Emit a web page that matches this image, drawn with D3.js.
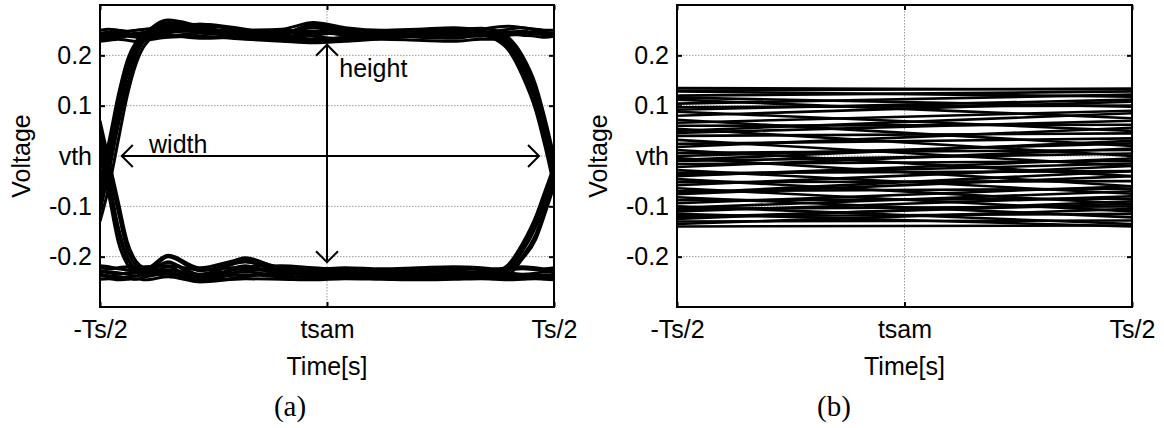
<!DOCTYPE html>
<html><head><meta charset="utf-8">
<script src="https://cdn.jsdelivr.net/npm/d3@7"></script>
<style>body{margin:0;background:#fff}svg{display:block}</style>
</head><body><svg id="c" width="1164" height="428"></svg>
<script>
// ---------- data ----------
const yTickValues = [0.2, 0.1, 0, -0.1, -0.2];
const yTickLabels = ["0.2", "0.1", "vth", "-0.1", "-0.2"];
const xTickValues = [-0.5, 0, 0.5];
const xTickLabels = ["-Ts/2", "tsam", "Ts/2"];
const xLabel = "Time[s]";
const yLabel = "Voltage";
const captions = ["(a)", "(b)"];

// panel (a): eye diagram traces sampled at timeA
const timeA = [-0.5,-0.48,-0.46,-0.44,-0.42,-0.40,-0.35,-0.28,-0.18,-0.10,-0.03,0.04,0.12,0.20,0.28,0.34,0.37,0.40,0.43,0.46,0.48,0.5];
const eyeTraces = [
  [0.238,0.242,0.246,0.244,0.24,0.238,0.245,0.25,0.242,0.24,0.258,0.25,0.238,0.242,0.24,0.242,0.244,0.246,0.248,0.245,0.242,0.24],
  [0.232,0.234,0.236,0.238,0.236,0.234,0.238,0.244,0.236,0.232,0.228,0.232,0.24,0.236,0.234,0.24,0.236,0.222,0.18,0.115,0.04,-0.04],
  [-0.08,0.0,0.09,0.17,0.215,0.24,0.265,0.255,0.245,0.243,0.262,0.25,0.238,0.242,0.24,0.242,0.238,0.225,0.185,0.12,0.05,-0.03],
  [-0.05,0.03,0.12,0.19,0.228,0.245,0.27,0.258,0.24,0.236,0.245,0.242,0.246,0.248,0.244,0.245,0.248,0.252,0.255,0.25,0.246,0.244],
  [-0.11,-0.03,0.06,0.14,0.2,0.232,0.258,0.262,0.248,0.24,0.232,0.236,0.242,0.238,0.236,0.24,0.232,0.21,0.16,0.09,0.02,-0.06],
  [0.25,0.252,0.25,0.248,0.25,0.252,0.255,0.248,0.25,0.252,0.265,0.255,0.25,0.252,0.255,0.252,0.256,0.258,0.255,0.252,0.25,0.25],
  [0.228,0.23,0.232,0.23,0.228,0.23,0.236,0.238,0.232,0.228,0.225,0.228,0.232,0.23,0.228,0.232,0.232,0.215,0.17,0.105,0.03,-0.05],
  [-0.07,0.01,0.1,0.175,0.22,0.24,0.26,0.25,0.24,0.245,0.255,0.244,0.236,0.24,0.245,0.246,0.245,0.232,0.195,0.135,0.065,-0.02],
  [-0.09,-0.01,0.08,0.16,0.21,0.236,0.262,0.26,0.25,0.244,0.248,0.24,0.235,0.238,0.242,0.24,0.238,0.24,0.242,0.244,0.24,0.238],
  [0.236,0.238,0.24,0.242,0.24,0.24,0.248,0.262,0.252,0.238,0.232,0.235,0.24,0.242,0.24,0.238,0.24,0.242,0.24,0.238,0.236,0.238],
  [0.244,0.246,0.244,0.242,0.244,0.246,0.25,0.246,0.24,0.25,0.248,0.252,0.248,0.25,0.252,0.254,0.25,0.235,0.2,0.14,0.075,0.0],
  [-0.13,-0.06,0.03,0.12,0.185,0.222,0.252,0.25,0.24,0.234,0.24,0.246,0.244,0.242,0.246,0.248,0.244,0.228,0.19,0.13,0.06,-0.025],
  [0.242,0.244,0.243,0.24,0.238,0.242,0.24,0.234,0.238,0.246,0.238,0.232,0.236,0.244,0.25,0.246,0.242,0.244,0.246,0.244,0.242,0.244],
  [0.03,-0.05,-0.14,-0.2,-0.225,-0.232,-0.2,-0.228,-0.21,-0.23,-0.232,-0.23,-0.228,-0.232,-0.235,-0.233,-0.23,-0.232,-0.235,-0.233,-0.23,-0.232],
  [0.0,-0.08,-0.17,-0.215,-0.23,-0.236,-0.22,-0.25,-0.228,-0.225,-0.235,-0.238,-0.235,-0.23,-0.228,-0.232,-0.23,-0.222,-0.19,-0.14,-0.09,-0.04],
  [-0.235,-0.238,-0.24,-0.242,-0.245,-0.24,-0.235,-0.245,-0.202,-0.224,-0.228,-0.232,-0.235,-0.236,-0.233,-0.232,-0.235,-0.228,-0.2,-0.155,-0.105,-0.05],
  [-0.222,-0.224,-0.222,-0.22,-0.222,-0.224,-0.197,-0.222,-0.205,-0.222,-0.225,-0.222,-0.224,-0.222,-0.22,-0.222,-0.224,-0.222,-0.22,-0.222,-0.224,-0.222],
  [0.05,-0.03,-0.11,-0.185,-0.218,-0.228,-0.23,-0.248,-0.24,-0.232,-0.24,-0.242,-0.24,-0.238,-0.24,-0.238,-0.232,-0.215,-0.175,-0.12,-0.07,-0.02],
  [-0.245,-0.244,-0.246,-0.245,-0.244,-0.246,-0.24,-0.25,-0.244,-0.245,-0.246,-0.244,-0.245,-0.246,-0.245,-0.244,-0.245,-0.246,-0.245,-0.244,-0.245,-0.246],
  [0.02,-0.06,-0.15,-0.205,-0.226,-0.234,-0.21,-0.245,-0.218,-0.235,-0.23,-0.236,-0.232,-0.238,-0.236,-0.234,-0.238,-0.236,-0.236,-0.238,-0.236,-0.238],
  [-0.23,-0.232,-0.235,-0.232,-0.23,-0.228,-0.212,-0.235,-0.21,-0.228,-0.236,-0.232,-0.23,-0.235,-0.232,-0.23,-0.23,-0.218,-0.182,-0.128,-0.08,-0.03],
  [-0.228,-0.23,-0.232,-0.234,-0.232,-0.23,-0.226,-0.238,-0.224,-0.232,-0.234,-0.236,-0.238,-0.24,-0.238,-0.236,-0.238,-0.24,-0.238,-0.236,-0.238,-0.24],
  [0.07,-0.01,-0.09,-0.17,-0.21,-0.224,-0.234,-0.24,-0.23,-0.238,-0.228,-0.226,-0.23,-0.234,-0.236,-0.24,-0.242,-0.236,-0.205,-0.165,-0.115,-0.06],
  [-0.218,-0.22,-0.224,-0.226,-0.224,-0.22,-0.218,-0.226,-0.22,-0.218,-0.222,-0.226,-0.228,-0.226,-0.224,-0.226,-0.228,-0.226,-0.224,-0.226,-0.228,-0.226],
  [-0.238,-0.24,-0.242,-0.24,-0.238,-0.236,-0.232,-0.242,-0.236,-0.24,-0.242,-0.24,-0.242,-0.244,-0.242,-0.24,-0.242,-0.244,-0.242,-0.24,-0.242,-0.244]
];

// panel (b): closed eye, each trace from -Ts/2 to Ts/2
const timeB = [-0.5, 0.5];
const closedLeft  = [0.135,0.13,0.128,0.12,0.116,0.112,0.104,0.097,0.092,0.088,0.08,0.072,0.066,0.06,0.054,0.05,0.046,0.04,0.032,0.024,0.018,0.012,0.006,0.0,-0.004,-0.008,-0.01,-0.016,-0.022,-0.028,-0.034,-0.038,-0.04,-0.046,-0.052,-0.058,-0.064,-0.07,-0.074,-0.076,-0.082,-0.088,-0.094,-0.1,-0.103,-0.105,-0.11,-0.115,-0.12,-0.122,-0.125,-0.13,-0.135,-0.14];
const closedRight = [0.132,0.134,0.118,0.128,0.098,0.075,0.122,0.1,0.112,0.05,0.108,0.02,0.09,0.062,0.0,0.085,0.07,0.045,-0.02,0.035,0.056,-0.04,0.012,0.025,-0.06,0.03,0.005,-0.01,0.015,-0.075,-0.03,-0.015,-0.005,-0.095,-0.05,-0.02,-0.11,-0.065,-0.03,-0.04,-0.122,-0.085,-0.06,-0.135,-0.07,-0.1,-0.08,-0.14,-0.115,-0.095,-0.09,-0.128,-0.105,-0.138];

// annotations (panel a)
const widthArrow  = {t0: -0.452, t1: 0.467, v: 0};
const heightArrow = {t: 0, v0: 0.221, v1: -0.211};
const widthLabel  = {t: -0.392, v: 0.006, text: "width"};
const heightLabel = {t: 0.027, v: 0.157, text: "height"};

// ---------- layout ----------
const svg = d3.select("#c");
const font = "'Liberation Sans', Arial, Helvetica, sans-serif";
const yTop = 5, yBot = 307;
const panels = [{x0: 100, x1: 554, cap: 290}, {x0: 677, x1: 1132, cap: 834}];

panels.forEach((p, pi) => {
  const x = d3.scaleLinear().domain([-0.5, 0.5]).range([p.x0, p.x1]);
  const y = d3.scaleLinear().domain([-0.3, 0.3]).range([yBot, yTop]);
  const g = svg.append("g");

  // grid
  g.selectAll(".gy").data(yTickValues).join("line")
    .attr("x1", p.x0).attr("x2", p.x1).attr("y1", d => y(d)).attr("y2", d => y(d))
    .attr("stroke", "#9a9a9a").attr("stroke-width", 1).attr("stroke-dasharray", "1.5,1.5");
  g.selectAll(".gx").data(xTickValues).join("line")
    .attr("y1", yTop).attr("y2", yBot).attr("x1", d => x(d)).attr("x2", d => x(d))
    .attr("stroke", "#9a9a9a").attr("stroke-width", 1).attr("stroke-dasharray", "1.5,1.5");

  // clip
  const cid = "clip" + pi;
  svg.append("clipPath").attr("id", cid).append("rect")
    .attr("x", p.x0).attr("y", yTop).attr("width", p.x1 - p.x0).attr("height", yBot - yTop);
  const plot = g.append("g").attr("clip-path", `url(#${cid})`);

  if (pi === 0) {
    const line = d3.line().x((d, i) => x(timeA[i])).y(d => y(d)).curve(d3.curveMonotoneX);
    plot.selectAll("path.tr").data(eyeTraces).join("path")
      .attr("d", line).attr("fill", "none").attr("stroke", "#000").attr("stroke-width", 3);
  } else {
    const pairs = closedLeft.map((v, i) => [v, closedRight[i]]);
    const line = d3.line().x((d, i) => x(timeB[i])).y(d => y(d));
    plot.selectAll("path.tr").data(pairs).join("path")
      .attr("d", line).attr("fill", "none").attr("stroke", "#000").attr("stroke-width", 2.6);
  }

  // axes: labels + inward ticks
  const ax = svg.append("g").attr("font-family", font);
  const left = d3.axisLeft(y).tickValues(yTickValues).tickFormat((d, i) => yTickLabels[i])
    .tickSizeInner(-5).tickSizeOuter(0).tickPadding(8);
  const gl = ax.append("g").attr("transform", `translate(${p.x0},0)`).call(left);
  const right = d3.axisRight(y).tickValues(yTickValues).tickFormat("").tickSizeInner(-5).tickSizeOuter(0);
  const gr = ax.append("g").attr("transform", `translate(${p.x1},0)`).call(right);
  const bot = d3.axisBottom(x).tickValues(xTickValues).tickFormat((d, i) => xTickLabels[i])
    .tickSizeInner(-5).tickSizeOuter(0).tickPadding(13);
  const gb = ax.append("g").attr("transform", `translate(0,${yBot})`).call(bot);
  const topAx = d3.axisTop(x).tickValues(xTickValues).tickFormat("").tickSizeInner(-5).tickSizeOuter(0);
  const gt = ax.append("g").attr("transform", `translate(0,${yTop})`).call(topAx);
  [gl, gr, gb, gt].forEach(a => {
    a.select(".domain").remove();
    a.selectAll(".tick line").attr("stroke", "#000").attr("stroke-width", 2);
    a.selectAll("text").attr("font-size", 25).attr("fill", "#000");
  });

  // frame
  g.append("rect").attr("x", p.x0).attr("y", yTop).attr("width", p.x1 - p.x0).attr("height", yBot - yTop)
    .attr("fill", "none").attr("stroke", "#000").attr("stroke-width", 2);

  // axis titles
  svg.append("text").attr("x", (p.x0 + p.x1) / 2).attr("y", 375).attr("text-anchor", "middle")
    .attr("font-family", font).attr("font-size", 25).text(xLabel);
  svg.append("text").attr("transform", `translate(${p.x0 - 70},${(yTop + yBot) / 2}) rotate(-90)`)
    .attr("text-anchor", "middle").attr("font-family", font).attr("font-size", 25).text(yLabel);
  svg.append("text").attr("x", p.cap).attr("y", 416).attr("text-anchor", "middle")
    .attr("font-family", "'Liberation Serif', 'Times New Roman', serif").attr("font-size", 29).text(captions[pi]);

  if (pi === 0) {
    const a = svg.append("g").attr("stroke", "#000").attr("stroke-width", 2).attr("fill", "none");
    const ay = y(widthArrow.v), lx = x(widthArrow.t0), rx = x(widthArrow.t1);
    a.append("line").attr("x1", lx).attr("x2", rx).attr("y1", ay).attr("y2", ay);
    a.append("path").attr("d", `M${lx + 11},${ay - 11}L${lx},${ay}L${lx + 11},${ay + 11}`);
    a.append("path").attr("d", `M${rx - 11},${ay - 11}L${rx},${ay}L${rx - 11},${ay + 11}`);
    const vx = x(heightArrow.t), ty = y(heightArrow.v0), by = y(heightArrow.v1);
    a.append("line").attr("x1", vx).attr("x2", vx).attr("y1", ty).attr("y2", by);
    a.append("path").attr("d", `M${vx - 11},${ty + 11}L${vx},${ty}L${vx + 11},${ty + 11}`);
    a.append("path").attr("d", `M${vx - 11},${by - 11}L${vx},${by}L${vx + 11},${by - 11}`);
    svg.append("text").attr("x", x(widthLabel.t)).attr("y", y(widthLabel.v))
      .attr("font-family", font).attr("font-size", 25).text(widthLabel.text);
    svg.append("text").attr("x", x(heightLabel.t)).attr("y", y(heightLabel.v))
      .attr("font-family", font).attr("font-size", 25).text(heightLabel.text);
  }
});
</script></body></html>
